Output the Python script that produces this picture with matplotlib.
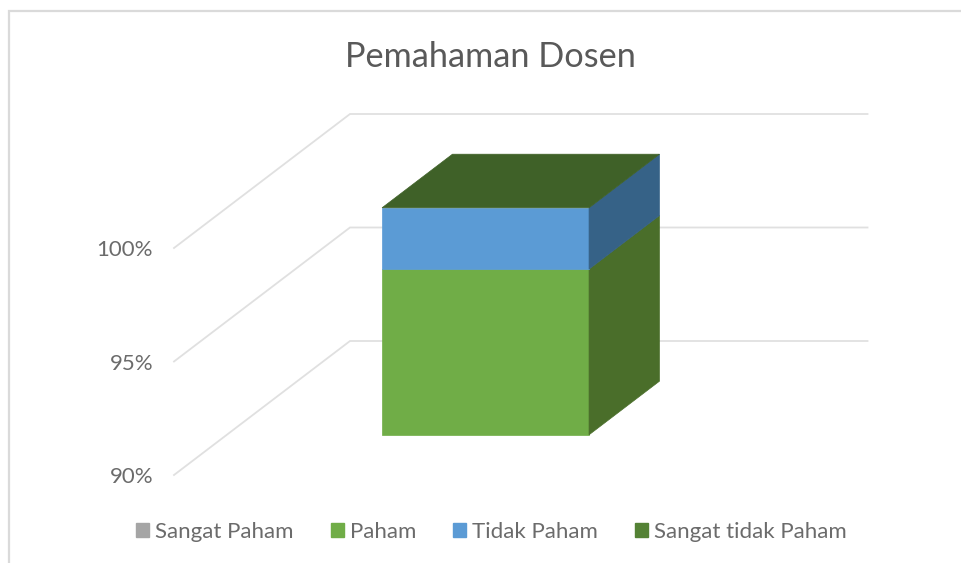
import matplotlib
matplotlib.use('Agg')
import matplotlib.pyplot as plt
from matplotlib.lines import Line2D
from matplotlib.patches import Patch, Polygon

plt.rcParams['font.family'] = ['Lato', 'DejaVu Sans']

series_names = ['Sangat Paham', 'Paham', 'Tidak Paham', 'Sangat tidak Paham']
series_values = [0.0, 97.3, 2.7, 0.0]
legend_colors = ['#A5A5A5', '#70AD47', '#5B9BD5', '#548235']
side_colors = ['#626262', '#4A6E2A', '#366287', '#3F6128']
top_color = '#3F6128'
y_ticks = [90, 95, 100]
y_labels = ['90%', '95%', '100%']
title = 'Pemahaman Dosen'

W, H = 962, 563
GRID = '#E0E0E0'
TEXT = '#6B6B6B'

# plano frontal del grafico en pixeles
X0, X1, Y_BOT, Y_TOP = 174, 691.5, 475, 248
# desplazamiento de la profundidad, en unidades de los ejes
DX = 176 / (X1 - X0)
DY = 134 / ((Y_BOT - Y_TOP) / 10)


def project(x, pct, depth):
    """Proyeccion oblicua a las coordenadas de los ejes"""
    return x + depth * DX, pct + depth * DY


def add_face(ax, corners, color):
    pts = [project(*c) for c in corners]
    ax.add_patch(Polygon(pts, closed=True, facecolor=color, edgecolor=color,
                         linewidth=0.5, clip_on=False, zorder=3))


fig = plt.figure(figsize=(W / 100, H / 100), dpi=100)
ax = fig.add_axes([X0 / W, 1 - Y_BOT / H, (X1 - X0) / W, (Y_BOT - Y_TOP) / H])
ax.set_xlim(0, 1)
ax.set_ylim(90, 100)
ax.patch.set_alpha(0)
for s in ax.spines.values():
    s.set_visible(False)
ax.set_xticks([])
ax.set_yticks(y_ticks)
ax.set_yticklabels(y_labels, color=TEXT, fontsize=16)
ax.tick_params(axis='y', length=0, pad=15)

for p in y_ticks:
    pts = [project(0, p, 0), project(0, p, 1), project(1, p, 1)]
    ax.plot([q[0] for q in pts], [q[1] for q in pts], color=GRID, lw=1.3,
            clip_on=False, zorder=1, solid_joinstyle='miter')

# caja apilada
x_left, x_right = 0.30, 0.70
d_front, d_back = 0.30, 0.70
base = 90.0
level = 0.0
for val, col, side in zip(series_values, legend_colors, side_colors):
    low = max(level, base)
    level += val
    if level <= base or val == 0:
        continue
    add_face(ax, [(x_left, low, d_front), (x_right, low, d_front),
                  (x_right, level, d_front), (x_left, level, d_front)], col)
    add_face(ax, [(x_right, low, d_front), (x_right, low, d_back),
                  (x_right, level, d_back), (x_right, level, d_front)], side)
add_face(ax, [(x_left, level, d_front), (x_right, level, d_front),
              (x_right, level, d_back), (x_left, level, d_back)], top_color)

fig.text(490.5 / W, 1 - 57 / H, title, color='#595959', fontsize=24.7,
         ha='center', va='center')

handles = [Patch(facecolor=c, edgecolor=c) for c in legend_colors]
fig.legend(handles, series_names, ncol=4, frameon=False, fontsize=16,
           labelcolor=TEXT, loc='center', bbox_to_anchor=(491.5 / W, 1 - 531.5 / H),
           handlelength=0.58, handleheight=0.58, handletextpad=0.28,
           columnspacing=1.66, borderpad=0, borderaxespad=0)

# marco exterior
fig.add_artist(Line2D([9 / W, 9 / W, 1], [0, 1 - 10.5 / H, 1 - 10.5 / H],
                      color='#DADADA', lw=1.6, solid_joinstyle='miter'))

fig.savefig('out.png', dpi=100)
